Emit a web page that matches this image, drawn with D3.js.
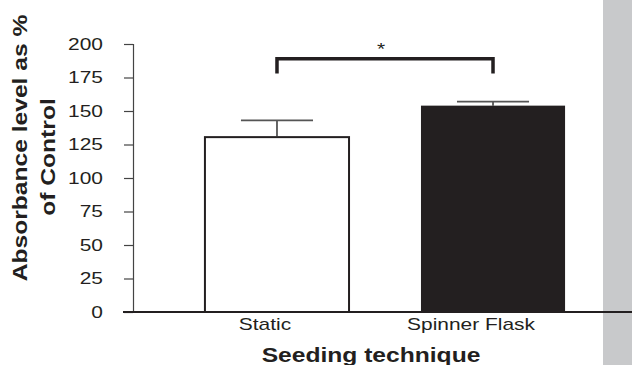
<!DOCTYPE html>
<html>
<head>
<meta charset="utf-8">
<script src="https://cdn.jsdelivr.net/npm/d3@7"></script>
<style>
  body { margin: 0; background: #fff; }
  svg { display: block; font-family: "Liberation Sans", Arial, sans-serif; }
</style>
</head>
<body>
<svg id="chart" width="632" height="365"></svg>
<script>
// values
var categories = ["Static", "Spinner Flask"];
var means = [130.5, 154];
var errTop = [143, 157];
var yTicks = [0, 25, 50, 75, 100, 125, 150, 175, 200];
var sigTop = 189, sigLeg = 178, sigLabel = "*";

var ink = "#231f20";
var stretch = 1.23; // glyphs in the source look widened

var svg = d3.select("#chart");

// grey strip at the right edge
svg.append("rect")
  .attr("x", 603).attr("y", 0)
  .attr("width", 29).attr("height", 365)
  .attr("fill", "#c8c9cb");

var x = d3.scaleBand()
  .domain(categories)
  .range([133, 637])
  .padding(0.333);

var y = d3.scaleLinear()
  .domain([0, 200])
  .range([312, 44]);

// y axis
var yAxis = svg.append("g")
  .attr("transform", "translate(133,0)")
  .call(d3.axisLeft(y).tickValues(yTicks).tickSize(9).tickPadding(21));
yAxis.select(".domain").attr("stroke", "#444").attr("stroke-width", 1.2);
yAxis.selectAll(".tick line").attr("stroke", "#444").attr("stroke-width", 1.2);
yAxis.selectAll("text")
  .attr("font-size", 17)
  .attr("fill", ink)
  .attr("font-family", "Liberation Sans, Arial, sans-serif");

// bars
var bars = svg.append("g");
bars.selectAll("rect")
  .data(categories)
  .enter()
  .append("rect")
  .attr("x", function(d) { return x(d); })
  .attr("y", function(d, i) { return y(means[i]); })
  .attr("width", x.bandwidth())
  .attr("height", function(d, i) { return y(0) - y(means[i]); })
  .attr("fill", function(d, i) { return i === 0 ? "#fff" : ink; })
  .attr("stroke", ink)
  .attr("stroke-width", function(d, i) { return i === 0 ? 2 : 0; });

// error bars (upper only)
var capHalf = x.bandwidth() / 4;
var errs = svg.append("g");
categories.forEach(function(c, i) {
  var cx = x(c) + x.bandwidth() / 2;
  errs.append("line")
    .attr("x1", cx).attr("x2", cx)
    .attr("y1", y(means[i])).attr("y2", y(errTop[i]))
    .attr("stroke", "#333").attr("stroke-width", 1.5);
  errs.append("line")
    .attr("x1", cx - capHalf).attr("x2", cx + capHalf)
    .attr("y1", y(errTop[i])).attr("y2", y(errTop[i]))
    .attr("stroke", "#555").attr("stroke-width", 1.6);
});

// x axis
svg.append("line")
  .attr("x1", 123).attr("x2", 632)
  .attr("y1", y(0)).attr("y2", y(0))
  .attr("stroke", ink).attr("stroke-width", 1.8);

var labelShift = [-12, -22];
var xAxis = svg.append("g")
  .attr("transform", "translate(0," + y(0) + ")")
  .call(d3.axisBottom(x).tickSize(0).tickPadding(6));
xAxis.select(".domain").remove();
xAxis.selectAll("text")
  .attr("font-size", 17)
  .attr("fill", ink)
  .attr("font-family", "Liberation Sans, Arial, sans-serif")
  .attr("dx", function(d, i) { return labelShift[i]; });

// significance bracket
var bx0 = x(categories[0]) + x.bandwidth() / 2;
var bx1 = x(categories[1]) + x.bandwidth() / 2;
svg.append("path")
  .attr("d", "M" + bx0 + "," + y(sigLeg) + "V" + y(sigTop) + "H" + bx1 + "V" + y(sigLeg))
  .attr("fill", "none")
  .attr("stroke", ink)
  .attr("stroke-width", 3.5);
svg.append("text")
  .attr("x", (bx0 + bx1) / 2 - 4)
  .attr("y", 55)
  .attr("text-anchor", "middle")
  .attr("font-size", 17)
  .attr("fill", ink)
  .text(sigLabel);

// titles
svg.append("text")
  .attr("transform", "translate(27,148) rotate(-90)")
  .attr("text-anchor", "middle")
  .attr("font-size", 20)
  .attr("font-weight", "bold")
  .attr("fill", ink)
  .text("Absorbance level as %");
svg.append("text")
  .attr("transform", "translate(55,157) rotate(-90)")
  .attr("text-anchor", "middle")
  .attr("font-size", 20)
  .attr("font-weight", "bold")
  .attr("fill", ink)
  .text("of Control");
svg.append("text")
  .attr("x", 371)
  .attr("y", 362)
  .attr("text-anchor", "middle")
  .attr("font-size", 20)
  .attr("font-weight", "bold")
  .attr("fill", ink)
  .text("Seeding technique");

// widen every label to match the source's stretched lettering
svg.selectAll("text").each(function() {
  var w = this.getComputedTextLength();
  d3.select(this)
    .attr("textLength", w * stretch)
    .attr("lengthAdjust", "spacingAndGlyphs");
});
</script>
</body>
</html>
